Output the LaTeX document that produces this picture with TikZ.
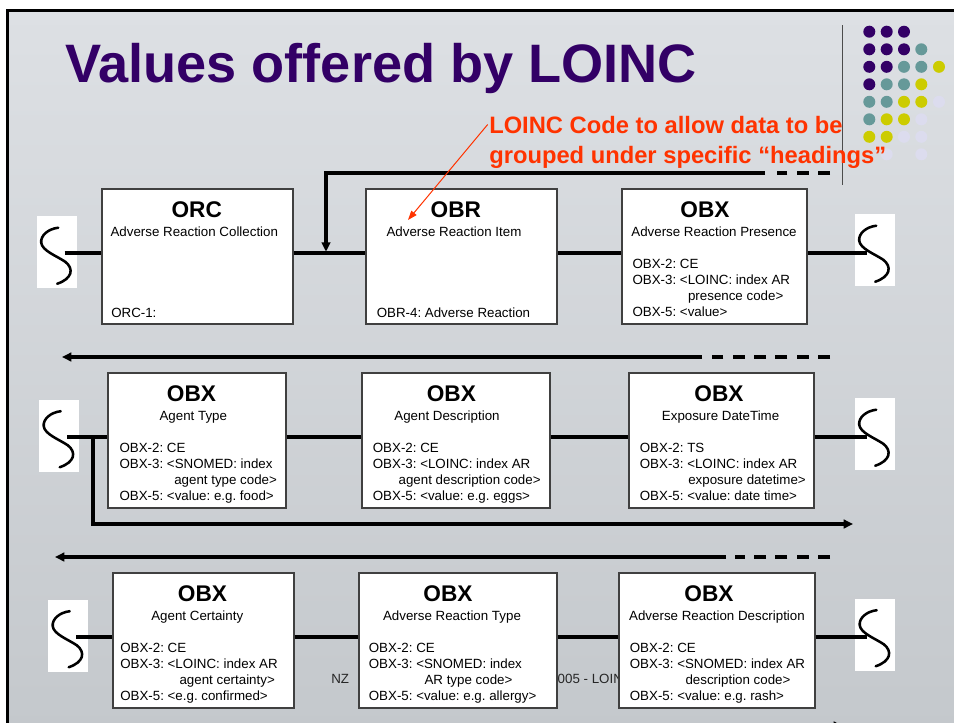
\documentclass[tikz,border=0pt]{standalone}
\usepackage{fontspec}
\setmainfont{Liberation Sans}
\usetikzlibrary{arrows.meta,calc}
\definecolor{ttl}{HTML}{330066}
\definecolor{dotP}{HTML}{330066}
\definecolor{dotT}{HTML}{669999}
\definecolor{dotY}{HTML}{CCCC00}
\definecolor{dotL}{HTML}{DCDCEE}
\definecolor{notec}{HTML}{FF3300}
\definecolor{bgtop}{HTML}{DDE0E4}
\definecolor{bgmid}{HTML}{D7DADE}
\definecolor{bgbot}{HTML}{C4C8CC}
\frenchspacing
\newcommand\mysquig[1]{%
  \begin{scope}[shift={(#1.north west)}]
    \draw[line width=1.9pt,line cap=round,line join=round]
      (22,12) .. controls (12,13) and (4,20) .. (5,27)
      .. controls (6,35) and (20,40) .. (29,46)
      .. controls (38,53) and (36,63) .. (21,68);
  \end{scope}}
\begin{document}
\begin{tikzpicture}[x=0.75pt,y=-0.75pt,
  box/.style={draw=black!75,line width=0.8pt,fill=white,inner sep=0pt,minimum height=101.25pt},
  sbox/.style={fill=white,inner sep=0pt,minimum width=30pt,minimum height=54pt},
  hd/.style={font=\fontsize{17}{20}\selectfont\bfseries,inner sep=0pt,anchor=base},
  sub/.style={font=\fontsize{10}{12}\selectfont,inner sep=0pt,anchor=base},
  fld/.style={font=\fontsize{10}{12}\selectfont,inner sep=0pt,anchor=base west},
  conn/.style={line width=2.3pt},
  arr/.style={conn,-{Triangle[length=7pt,width=6.5pt]}},
  dsh/.style={conn,dash pattern=on 9pt off 7pt},
  dot/.style={radius=4.5pt},
]
\path[use as bounding box] (0,0) rectangle (954,722);
\clip (0,0) rectangle (954,722);
% background
\fill[white] (0,0) rectangle (954,722);
\shade[top color=bgtop,middle color=bgmid,bottom color=bgbot] (7,10) rectangle (960,730);
\draw[line width=2.25pt] (7.5,735) -- (7.5,10.5) -- (960,10.5);
% dots
\foreach \x/\y/\col in {
 869.3/31.7/dotP, 886.7/31.7/dotP, 904/31.7/dotP,
 869.3/49.3/dotP, 886.7/49.3/dotP, 904/49.3/dotP, 921.3/49.3/dotT,
 869.3/66.8/dotP, 886.7/66.8/dotP, 904/66.8/dotT, 921.3/66.8/dotT, 939/66.8/dotY,
 869.3/84.3/dotP, 886.7/84.3/dotT, 904/84.3/dotT, 921.3/84.3/dotY,
 869.3/101.8/dotT, 886.7/101.8/dotT, 904/101.8/dotY, 921.3/101.8/dotY, 939/101.8/dotL,
 869.3/119.3/dotT, 886.7/119.3/dotY, 904/119.3/dotY, 921.3/119.3/dotL,
 869.3/136.8/dotY, 886.7/136.8/dotY, 904/136.8/dotL, 921.3/136.8/dotL,
 886.7/154.3/dotL, 921.3/154.3/dotL}
 {\fill[\col] (\x,\y) circle[dot];}
\draw[black!70,line width=0.8pt] (842.7,25) -- (842.7,185);
% title
\node[font=\fontsize{40.6}{48}\selectfont\bfseries,text=ttl,inner sep=0pt,anchor=base west] (title) at (65,82) {Values offered by LOINC};
% footer (mostly hidden)
\node[fld,text=black!85] (foot1) at (331,683) {NZ};
\node[fld,text=black!85] (foot2) at (550,683) {2005 - LOINC};
% row coordinates
\coordinate (R1) at (0,253);
\coordinate (R2) at (0,437);
\coordinate (R3) at (0,637);
% ---------- row 1 ----------
\node[box,minimum width=143.25pt] (orc) at (197.5,256.5) {};
\node[hd] (orcT) at (196.7,217.5) {ORC};
\node[sub] (orcS) at (194.3,236.5) {Adverse Reaction Collection};
\node[fld] (orcF) at (111,317) {ORC-1:};
\node[box,minimum width=143.25pt] (obr) at (461.5,256.5) {};
\node[hd] (obrT) at (455.8,217.5) {OBR};
\node[sub] (obrS) at (454,236.5) {Adverse Reaction Item};
\node[fld] (obrF) at (376.5,317) {OBR-4: Adverse Reaction};
\node[box,minimum width=138.75pt] (obx1) at (714.5,256.5) {};
\node[hd] (obx1T) at (705,217.5) {OBX};
\node[sub] (obx1S) at (714,236.5) {Adverse Reaction Presence};
\node[fld] (obx1a) at (632.3,268) {OBX-2: CE};
\node[fld] (obx1b) at (632.3,284) {OBX-3: <LOINC: index AR};
\node[fld] (obx1c) at (687.8,300.5) {presence code>};
\node[fld] (obx1d) at (632.3,316) {OBX-5: <value>};
\node[sbox] (s1L) at (56.5,252) {};
\node[sbox] (s1R) at (874.5,250) {};
\draw[conn] ($(s1L.center |- R1)+(8,0)$) -- (orc.west |- R1);
\draw[conn] (orc.east |- R1) -- (obr.west |- R1);
\draw[conn] (obr.east |- R1) -- (obx1.west |- R1);
\draw[conn] (obx1.east |- R1) -- ($(s1R.center |- R1)+(-8,0)$);
\mysquig{s1L}
\mysquig{s1R}
\coordinate (F1a) at (830,173);
\coordinate (F1b) at (777,173);
\coordinate (F1c) at (765,173);
\coordinate (F1d) at (326,173);
\draw[dsh] (F1a) -- (F1b);
\draw[arr,shorten >=1pt] (F1c) -- (F1d) -- (F1d |- R1);
% ---------- row 2 ----------
\coordinate (B2a) at (830,357);
\coordinate (B2b) at (712,357);
\coordinate (B2c) at (702,357);
\coordinate (B2d) at (62,357);
\draw[dsh] (B2a) -- (B2b);
\draw[arr] (B2c) -- (B2d);
\node[box,minimum width=133.5pt] (at) at (197,440.5) {};
\node[hd] (atT) at (191.5,401.5) {OBX};
\node[sub] (atS) at (193.3,420.5) {Agent Type};
\node[fld] (ata) at (119.3,452) {OBX-2: CE};
\node[fld] (atb) at (119.3,468) {OBX-3: <SNOMED: index};
\node[fld] (atc) at (174,484) {agent type code>};
\node[fld] (atd) at (119.3,500) {OBX-5: <value: e.g. food>};
\node[box,minimum width=141pt] (ad) at (456,440.5) {};
\node[hd] (adT) at (451.4,401.5) {OBX};
\node[sub] (adS) at (447,420.5) {Agent Description};
\node[fld] (ada) at (372.6,452) {OBX-2: CE};
\node[fld] (adb) at (372.6,468) {OBX-3: <LOINC: index AR};
\node[fld] (adc) at (398.4,484) {agent description code>};
\node[fld] (add) at (372.6,500) {OBX-5: <value: e.g. eggs>};
\node[box,minimum width=138.75pt] (ed) at (721.5,440.5) {};
\node[hd] (edT) at (719,401.5) {OBX};
\node[sub] (edS) at (720.6,420.5) {Exposure DateTime};
\node[fld] (eda) at (639.6,452) {OBX-2: TS};
\node[fld] (edb) at (639.6,468) {OBX-3: <LOINC: index AR};
\node[fld] (edc) at (688,484) {exposure datetime>};
\node[fld] (edd) at (639.6,500) {OBX-5: <value: date time>};
\node[sbox] (s2L) at (59,435.5) {};
\node[sbox] (s2R) at (874.5,434) {};
\draw[conn] ($(s2L.center |- R2)+(8,0)$) -- (at.west |- R2);
\draw[conn] (at.east |- R2) -- (ad.west |- R2);
\draw[conn] (ad.east |- R2) -- (ed.west |- R2);
\draw[conn] (ed.east |- R2) -- ($(s2R.center |- R2)+(-8,0)$);
\mysquig{s2L}
\mysquig{s2R}
\coordinate (J2) at (93,437);
\coordinate (K2) at (853,524);
\draw[arr] (J2) -- (J2 |- K2) -- (K2);
% ---------- row 3 ----------
\coordinate (B3a) at (830,557);
\coordinate (B3b) at (735,557);
\coordinate (B3c) at (726,557);
\coordinate (B3d) at (55,557);
\draw[dsh] (B3a) -- (B3b);
\draw[arr] (B3c) -- (B3d);
\node[box,minimum width=135.75pt] (ac) at (203.5,640.5) {};
\node[hd] (acT) at (202.5,601.5) {OBX};
\node[sub] (acS) at (197.3,620.5) {Agent Certainty};
\node[fld] (aca) at (120,652) {OBX-2: CE};
\node[fld] (acb) at (120,668) {OBX-3: <LOINC: index AR};
\node[fld] (acc) at (179.3,684) {agent certainty>};
\node[fld] (acd) at (120,700) {OBX-5: <e.g. confirmed>};
\node[box,minimum width=148.5pt] (art) at (458,640.5) {};
\node[hd] (artT) at (448,601.5) {OBX};
\node[sub] (artS) at (452,620.5) {Adverse Reaction Type};
\node[fld] (arta) at (368.6,652) {OBX-2: CE};
\node[fld] (artb) at (368.6,668) {OBX-3: <SNOMED: index};
\node[fld] (artc) at (424.3,684) {AR type code>};
\node[fld] (artd) at (368.6,700) {OBX-5: <value: e.g. allergy>};
\node[box,minimum width=147pt] (ard) at (717,640.5) {};
\node[hd] (ardT) at (709,601.5) {OBX};
\node[sub] (ardS) at (717,620.5) {Adverse Reaction Description};
\node[fld] (arda) at (629.6,652) {OBX-2: CE};
\node[fld] (ardb) at (629.6,668) {OBX-3: <SNOMED: index AR};
\node[fld] (ardc) at (685.3,684) {description code>};
\node[fld] (ardd) at (629.6,700) {OBX-5: <value: e.g. rash>};
\node[sbox] (s3L) at (68,635.5) {};
\node[sbox] (s3R) at (875,634.5) {};
\draw[conn] ($(s3L.center |- R3)+(8,0)$) -- (ac.west |- R3);
\draw[conn] (ac.east |- R3) -- (art.west |- R3);
\draw[conn] (art.east |- R3) -- (ard.west |- R3);
\draw[conn] (ard.east |- R3) -- ($(s3R.center |- R3)+(-8,0)$);
\mysquig{s3L}
\mysquig{s3R}
\coordinate (J3) at (700,726);
\coordinate (K3) at (843,726);
\draw[arr] (J3) -- (K3);
% ---------- annotation ----------
\node[font=\fontsize{17.8}{22}\selectfont\bfseries,text=notec,inner sep=0pt,anchor=base west] (note1) at (489,133) {LOINC Code to allow data to be};
\node[font=\fontsize{17.8}{22}\selectfont\bfseries,text=notec,inner sep=0pt,anchor=base west] (note2) at (489,163) {grouped under specific “headings”};
\coordinate (N) at (408,220);
\draw[notec,line width=0.75pt,-{Triangle[length=7pt,width=5pt]}] ([xshift=-1pt]note1.west) -- (N);
\end{tikzpicture}
\end{document}
